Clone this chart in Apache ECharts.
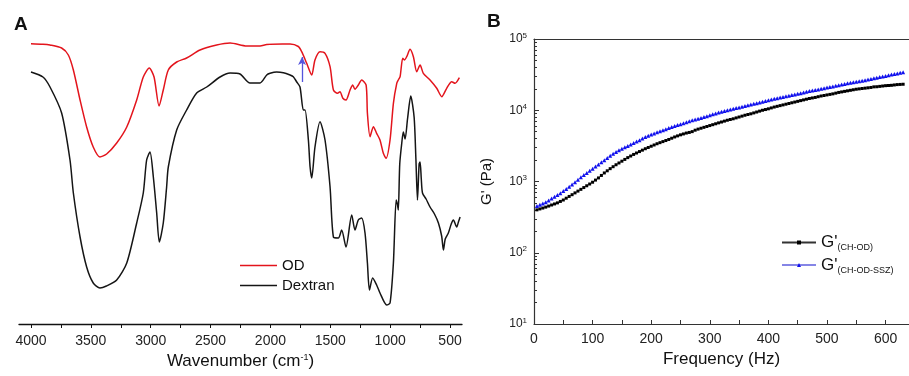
<!DOCTYPE html>
<html><head><meta charset="utf-8">
<script src="https://cdn.jsdelivr.net/npm/echarts@6/dist/echarts.min.js"></script>
<style>html,body{margin:0;padding:0;background:#fff}#c{width:909px;height:376px}</style>
</head><body><div id="c"></div>
<script>
// ---------- Panel A: FTIR (arbitrary transmittance units) ----------
const odWavenumber = [4000,3900,3841,3744,3688,3646,3590,3535,3480,3424,3368,3284,3200,3117,3062,3012,2972,2930,2895,2853,2783,2700,2588,2449,2337,2198,2087,2031,1900,1836,1767,1739,1697,1655,1628,1586,1544,1502,1474,1440,1419,1395,1369,1335,1313,1294,1266,1238,1201,1190,1168,1140,1113,1085,1057,1034,1001,973,945,932,917,895,881,862,834,806,778,750,723,667,611,569,528,486,458,422];
const odSignal = [280.3,279.8,279,276,269,254,224,197,177,167,170,181,197,224,247,256,247,218,234,254,262,266,274,279,281,278,278,279.5,280,280,277.5,272.3,260.7,249,264,272.3,270.7,257.3,234,230.7,232.3,225.7,224,234,239,234.7,239,244,239,210.7,187.3,197.3,190.7,184,170.7,165.7,184,220.7,240.7,244,247.3,265.7,264,267.3,274.7,267.3,252.3,259,250.7,244,235.7,227.3,235.7,242.3,240.7,246.3];
const dexWavenumber = [4000,3900,3841,3744,3674,3646,3590,3535,3480,3424,3370,3284,3200,3117,3062,3034,3006,2978,2950,2928,2895,2867,2853,2783,2700,2616,2532,2421,2337,2254,2171,2087,2031,2003,1948,1892,1836,1809,1780,1753,1725,1711,1683,1669,1655,1628,1586,1544,1502,1474,1433,1405,1369,1321,1294,1266,1238,1210,1190,1173,1146,1113,1085,1029,1001,973,950,940,932,920,903,890,875,855,828,800,785,772,758,750,740,730,700,667,630,597,570,555,540,514,490,472,444,430,416];
const dexSignal = [252,247,237,211,164,131,87,57,41,36,38,44,61,101,131,164,172,147,111,82,101,137,157,194,214,231,237,247,251,250,241,241,249,250.7,252,251.3,249,247.3,242,237,214,214,184,157.3,146,177,202.3,184,137,87,86,94,77,109,94,104,106,91,61,34,46,39,31,19,21,61,124,120,114,160,181,192,185,205,228,207,165,124,160,162,145,131,125,117,110,101,88,74,85,91,100,104,97,102,107];
const ftirTickLabels = [500,1000,1500,2000,2500,3000,3500,4000];
const ftirTicks = [500,750,1000,1250,1500,1750,2000,2250,2500,2750,3000,3250,3500,3750,4000];
const arrowWavenumber = 1736;
const arrowSpan = [242, 267];

// ---------- Panel B: G' vs frequency ----------
const freqHz = [5,10,15,20,25,30,35,40,45,50,55,60,65,70,75,80,85,90,95,100,105,110,115,120,125,130,135,140,145,150,155,160,165,170,175,180,185,190,195,200,205,210,215,220,225,230,235,240,245,250,255,260,265,270,275,280,285,290,295,300,305,310,315,320,325,330,335,340,345,350,355,360,365,370,375,380,385,390,395,400,405,410,415,420,425,430,435,440,445,450,455,460,465,470,475,480,485,490,495,500,505,510,515,520,525,530,535,540,545,550,555,560,565,570,575,580,585,590,595,600,605,610,615,620,625,630];
const gCHOD = [400,412,424,437,452,468,484,501,525,550,583,617,653,692,733,776,822,871,922,977,1047,1122,1216,1318,1413,1514,1613,1718,1820,1928,2042,2163,2278,2399,2512,2630,2754,2884,3003,3126,3254,3388,3508,3631,3758,3890,4050,4217,4365,4519,4650,4786,4880,5012,5250,5433,5590,5754,5920,6095,6270,6457,6650,6839,7040,7244,7410,7586,7810,8035,8270,8511,8710,8913,9170,9441,9720,10000,10230,10471,10780,11092,11350,11614,11880,12162,12440,12735,13030,13335,13650,13964,14290,14622,14880,15136,15490,15849,16120,16406,16690,16982,17380,17783,18090,18408,18730,19055,19390,19724,19950,20184,20420,20654,20890,21300,21380,21627,21880,22131,22260,22387,22650,22909,23040,23174];
const gCHODSSZ = [452,473,493,513,542,575,610,646,685,733,786,841,905,977,1061,1148,1230,1318,1416,1514,1622,1738,1862,1995,2138,2291,2445,2600,2748,2884,3020,3162,3311,3467,3630,3802,4000,4217,4395,4571,4731,4898,5070,5248,5432,5623,5821,6026,6205,6383,6570,6761,7000,7244,7413,7586,7812,8035,8270,8511,8760,9016,9280,9550,9772,10000,10233,10471,10715,10965,11220,11482,11749,12023,12303,12589,12882,13183,13490,13804,14125,14454,14791,15136,15400,15668,16030,16406,16690,16982,17380,17783,18200,18621,18950,19275,19600,19953,20420,20893,21260,21627,22010,22387,22900,23442,23850,24266,24690,25119,25560,26002,26460,26915,27540,28184,28680,29174,29680,30200,30900,31623,32180,32734,33500,34277];
const freqTickLabels = [0,100,200,300,400,500,600];
const freqTicks = [0,50,100,150,200,250,300,350,400,450,500,550,600];
const gMajorTicks = [10,100,1000,10000,100000];
const gMinorTicks = [20,30,40,50,60,70,80,90,200,300,400,500,600,700,800,900,2000,3000,4000,5000,6000,7000,8000,9000,20000,30000,40000,50000,60000,70000,80000,90000];

const FONT = 'Arial, "Liberation Sans", sans-serif';
const chart = echarts.init(document.getElementById('c'), null, {renderer: 'canvas'});
const pair = (xs, ys) => xs.map((x, i) => [x, ys[i]]);

chart.setOption({
  animation: false,
  backgroundColor: '#fff',
  textStyle: {fontFamily: FONT},
  title: [
    {text: 'A', left: 9, top: 10, textStyle: {fontSize: 19, fontWeight: 'bold', color: '#111', fontFamily: FONT}},
    {text: 'B', left: 482, top: 7, textStyle: {fontSize: 19, fontWeight: 'bold', color: '#111', fontFamily: FONT}}
  ],
  legend: [
    {
      data: ['OD', 'Dextran'], orient: 'vertical', left: 235, top: 253,
      icon: 'rect', itemWidth: 37, itemHeight: 1.6, itemGap: 5,
      textStyle: {fontSize: 15, color: '#111', fontFamily: FONT}
    },
    {
      data: ["G'(CH-OD)", "G'(CH-OD-SSZ)"], orient: 'vertical', left: 776, top: 229,
      itemWidth: 34, itemHeight: 5, itemGap: 4,
      formatter: n => '{g|G\'}{s|' + n.slice(2) + '}',
      textStyle: {
        color: '#111', fontFamily: FONT,
        rich: {
          g: {fontSize: 17, color: '#111', fontFamily: FONT},
          s: {fontSize: 9, color: '#111', fontFamily: FONT, padding: [11, 0, 0, 0]}
        }
      }
    }
  ],
  grid: [
    {left: 19, right: 447, top: 24, bottom: 52},
    {left: 534, right: -2, top: 39, bottom: 52}
  ],
  xAxis: [
    {
      gridIndex: 0, type: 'value', min: 400, max: 4100, inverse: true,
      splitLine: {show: false},
      axisLine: {lineStyle: {color: '#111', width: 1.3}},
      axisTick: {customValues: ftirTicks, length: 4, lineStyle: {color: '#111'}},
      axisLabel: {customValues: ftirTickLabels, formatter: v => String(v), fontSize: 14, color: '#222', margin: 10, fontFamily: FONT},
      name: 'Wavenumber (cm{sup|-1})', nameLocation: 'middle', nameGap: 29,
      nameTextStyle: {fontSize: 17, color: '#111', fontFamily: FONT,
        rich: {sup: {fontSize: 9, color: '#111', verticalAlign: 'top', padding: [0, 0, 8, 0]}}}
    },
    {
      gridIndex: 1, type: 'value', min: 0, max: 640,
      splitLine: {show: false},
      axisLine: {lineStyle: {color: '#333', width: 1.2}},
      axisTick: {customValues: freqTicks, inside: true, length: 4, lineStyle: {color: '#333'}},
      axisLabel: {customValues: freqTickLabels, formatter: v => String(v), fontSize: 14, color: '#222', margin: 8, fontFamily: FONT},
      name: 'Frequency (Hz)', nameLocation: 'middle', nameGap: 27,
      nameTextStyle: {fontSize: 17, color: '#111', fontFamily: FONT}
    },
    {
      gridIndex: 1, type: 'value', min: 0, max: 640, position: 'top',
      splitLine: {show: false},
      axisLine: {lineStyle: {color: '#333', width: 1.2}},
      axisTick: {show: false}, axisLabel: {show: false}
    }
  ],
  yAxis: [
    {gridIndex: 0, type: 'value', min: 0, max: 300, show: false},
    {
      gridIndex: 1, type: 'log', logBase: 10, min: 10, max: 100000,
      splitLine: {show: false}, minorTick: {show: false},
      axisLine: {show: true, lineStyle: {color: '#333', width: 1.2}},
      axisTick: {customValues: gMajorTicks, inside: true, length: 5, lineStyle: {color: '#333'}},
      axisLabel: {
        customValues: gMajorTicks, margin: 7,
        formatter: v => '{b|10}{s|' + Math.round(Math.log10(v)) + '}',
        rich: {
          b: {fontSize: 12, color: '#222', fontFamily: FONT},
          s: {fontSize: 8, color: '#222', fontFamily: FONT, verticalAlign: 'top', padding: [0, 0, 7, 0]}
        }
      },
      name: "G' (Pa)", nameLocation: 'middle', nameGap: 40,
      nameTextStyle: {fontSize: 15, color: '#111', fontFamily: FONT}
    },
    {
      gridIndex: 1, type: 'log', logBase: 10, min: 10, max: 100000, position: 'left',
      splitLine: {show: false},
      axisLine: {show: false},
      axisTick: {customValues: gMinorTicks, inside: true, length: 3, lineStyle: {color: '#333'}},
      axisLabel: {show: false}
    }
  ],
  series: [
    {
      name: 'OD', type: 'line', xAxisIndex: 0, yAxisIndex: 0,
      data: pair(odWavenumber, odSignal), symbol: 'none', smooth: 0.25,
      lineStyle: {color: '#e3141c', width: 1.5}, itemStyle: {color: '#e3141c'},
      markLine: {
        silent: true, symbol: ['none', 'arrow'], symbolSize: [6, 8],
        lineStyle: {color: '#5555dd', width: 1.3, type: 'solid'},
        label: {show: false},
        data: [[{coord: [arrowWavenumber, arrowSpan[0]]}, {coord: [arrowWavenumber, arrowSpan[1]]}]]
      }
    },
    {
      name: 'Dextran', type: 'line', xAxisIndex: 0, yAxisIndex: 0,
      data: pair(dexWavenumber, dexSignal), symbol: 'none', smooth: 0.25,
      lineStyle: {color: '#151515', width: 1.5}, itemStyle: {color: '#151515'}
    },
    {
      name: "G'(CH-OD)", type: 'line', xAxisIndex: 1, yAxisIndex: 1,
      data: pair(freqHz, gCHOD), symbol: 'rect', symbolSize: 3, showAllSymbol: true,
      lineStyle: {color: '#333', width: 0.7}, itemStyle: {color: '#000'}
    },
    {
      name: "G'(CH-OD-SSZ)", type: 'line', xAxisIndex: 1, yAxisIndex: 1,
      data: pair(freqHz, gCHODSSZ), symbol: 'triangle', symbolSize: 4, showAllSymbol: true,
      lineStyle: {color: '#8585e6', width: 0.7}, itemStyle: {color: '#1010ee'}
    }
  ]
});
</script>
</body></html>
